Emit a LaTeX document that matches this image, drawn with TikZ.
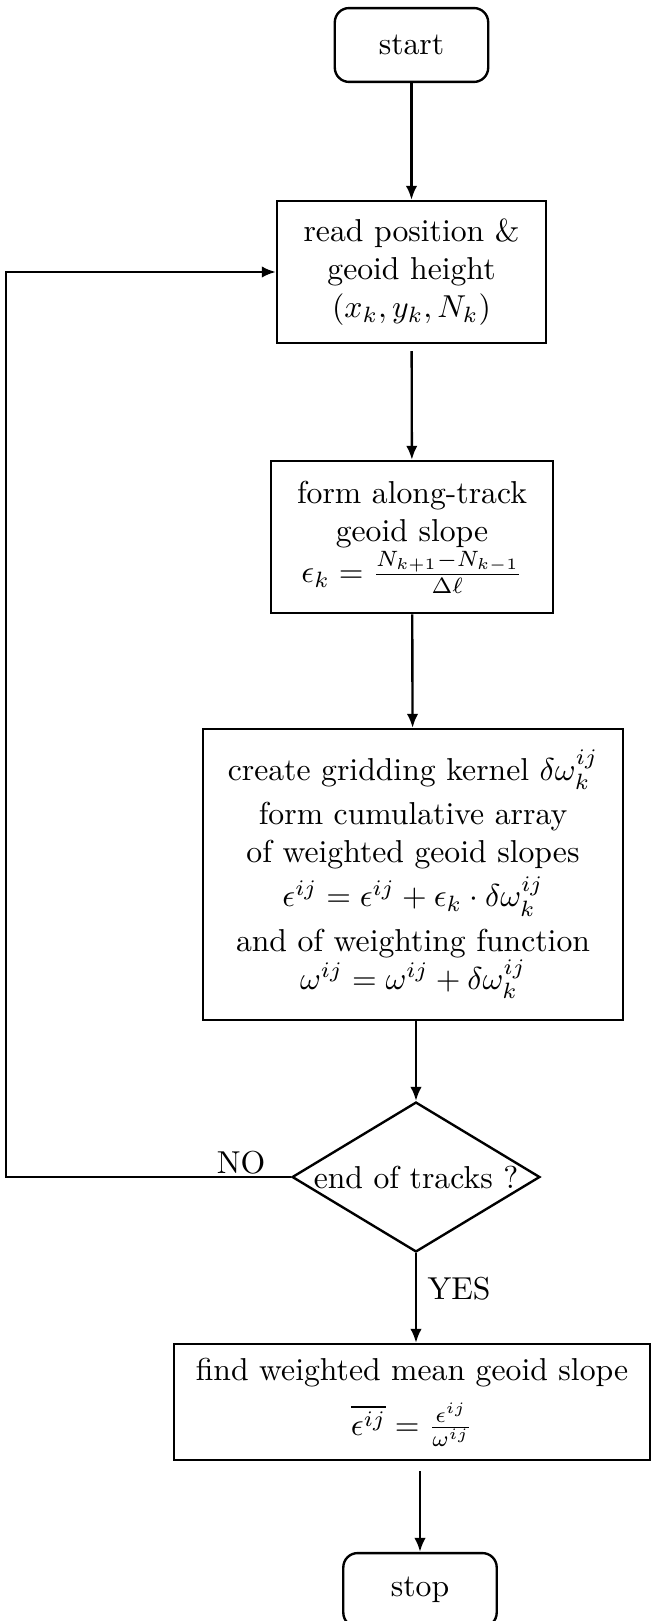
\documentclass[tikz,border=0pt]{standalone}
\usetikzlibrary{shapes.geometric,arrows.meta}
\begin{document}
\begin{tikzpicture}[x=0.3155pt, y=-0.3155pt,
	box/.style={shape=rectangle, draw, line width=0.75pt, align=center, inner sep=0pt},
	term/.style={box, rounded corners=4.5pt, minimum width=48.4pt, minimum height=23.3pt},
	test/.style={shape=diamond, draw, line width=0.75pt, aspect=1.65, inner sep=-1pt, minimum width=78.2pt, minimum height=47.3pt},
	flow/.style={line width=0.75pt, -{Latex[length=4.4pt, width=3.6pt]}},
	lbl/.style={shape=rectangle, inner sep=0pt}]
	\useasboundingbox (0, 0) rectangle (651, 1621);
	\node[term](Start) at (411.5, 45){start};
	\node[box, minimum width=84.9pt, minimum height=44.8pt](Read) at (411.5, 272){read position \&\\geoid height\\$(x_k, y_k, N_k)$};
	\node[box, minimum width=89pt, minimum height=48pt](Slope) at (412, 537){form along-track\\geoid slope\\[1pt]$\epsilon_k = \frac{N_{k+1}-N_{k-1}}{\Delta\ell}$};
	\node[box, minimum width=132.5pt, minimum height=91.8pt](Kernel) at (413, 874.5){create gridding kernel $\delta\omega^{ij}_k$\\[2pt]form cumulative array\\of weighted geoid slopes\\[2pt]$\epsilon^{ij} = \epsilon^{ij} + \epsilon_k\cdot\delta\omega^{ij}_k$\\[2pt]and of weighting function\\$\omega^{ij} = \omega^{ij} + \delta\omega^{ij}_k$};
	\node[test](Test) at (416, 1177){end of tracks ?};
	\node[box, minimum width=150.2pt, minimum height=36.6pt](Mean) at (412, 1402){find weighted mean geoid slope\\[4pt]$\overline{\epsilon^{ij}} = \frac{\epsilon^{ij}}{\omega^{ij}}$};
	\node[term](Stop) at (420, 1590){stop};
	\node[lbl](No) at (241, 1163){NO};
	\node[lbl](Yes) at (459, 1289){YES};
	\coordinate (Back) at (6, 1177);
	\draw[flow] (Start) -- (Read);
	\draw[flow, shorten <=2.2pt] (Read) -- (Slope);
	\draw[flow] (Slope) -- (Kernel);
	\draw[flow] (Test.north |- Kernel.south) -- (Test.north);
	\draw[flow] (Test.south) -- (Test.south |- Mean.north);
	\draw[flow, shorten <=3.2pt] (Stop.north |- Mean.south) -- (Stop.north);
	\draw[flow] (Test.west) -- (Back) |- (Read.west);
\end{tikzpicture}
\end{document}
